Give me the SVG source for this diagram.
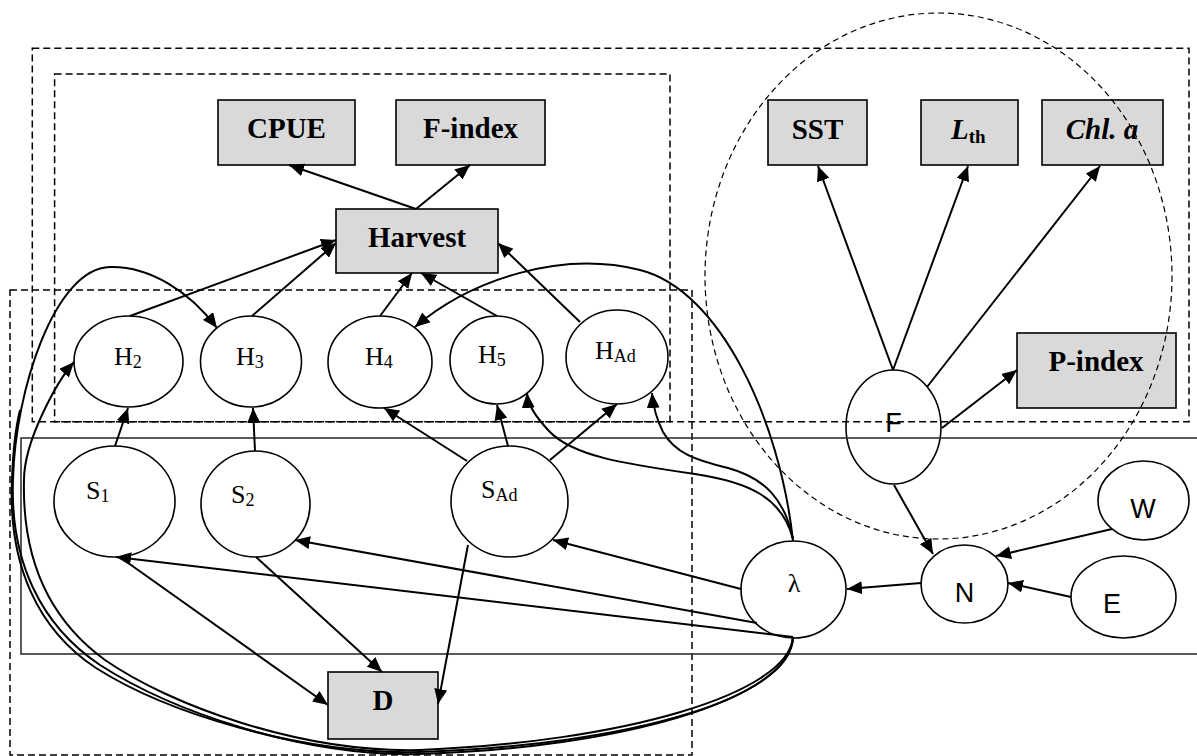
<svg xmlns="http://www.w3.org/2000/svg" width="1197" height="756" viewBox="0 0 1197 756">
<style>
.box{fill:#d9d9d9;stroke:#000;stroke-width:1.6}
.node{fill:#fff;stroke:#000;stroke-width:1.6}
.bl{font-family:"Liberation Serif","Times New Roman",serif;font-weight:bold;font-size:29px;fill:#000}
.sr{font-family:"Liberation Serif","Times New Roman",serif;font-size:26px;fill:#000}
.sub{font-size:18px}
.ss{font-family:"Liberation Sans",Arial,sans-serif;font-size:27px;fill:#000}
.edge{fill:none;stroke:#000;stroke-width:2;marker-end:url(#ah)}
.line{fill:none;stroke:#000;stroke-width:2}
.dash{fill:none;stroke:#000;stroke-width:1.5;stroke-dasharray:7 4}
.dashe{fill:none;stroke:#000;stroke-width:1.2;stroke-dasharray:6 4}
.solid{fill:none;stroke:#333;stroke-width:1.6}
</style>
<defs>
<marker id="ah" viewBox="0 0 15 13" refX="15" refY="6.5" markerWidth="15" markerHeight="13" markerUnits="userSpaceOnUse" orient="auto">
<path d="M0,0 L15,6.5 L0,13 z" fill="#000"/>
</marker>
</defs>
<rect width="1197" height="756" fill="#fff"/>

<g id="nodes">
<g id="CPUE"><rect class="box" x="218" y="100" width="137" height="65"/><text class="bl" x="286.5" y="138" text-anchor="middle">CPUE</text></g>
<g id="Findex"><rect class="box" x="396" y="100" width="149" height="65"/><text class="bl" x="470.5" y="138" text-anchor="middle">F-index</text></g>
<g id="Harvest"><rect class="box" x="336" y="209" width="162" height="64"/><text class="bl" x="417" y="247" text-anchor="middle">Harvest</text></g>
<g id="SST"><rect class="box" x="768" y="100" width="99" height="65"/><text class="bl" x="817.5" y="139" text-anchor="middle">SST</text></g>
<g id="Lth"><rect class="box" x="921" y="100" width="97" height="65"/><text class="bl" x="951" y="139"><tspan font-style="italic">L</tspan><tspan font-size="19" dy="4">th</tspan></text></g>
<g id="Chla"><rect class="box" x="1042" y="100" width="121" height="65"/><text class="bl" x="1102" y="139" text-anchor="middle" font-style="italic">Chl. a</text></g>
<g id="Pindex"><rect class="box" x="1017" y="333" width="159" height="75"/><text class="bl" x="1096" y="371" text-anchor="middle">P-index</text></g>
<g id="D"><rect class="box" x="328" y="672" width="110" height="67"/><text class="bl" x="383" y="710" text-anchor="middle">D</text></g>

<g id="H2"><ellipse class="node" cx="128.5" cy="361.5" rx="54.5" ry="45.5"/><text class="sr" x="114" y="365">H<tspan class="sub" dy="3">2</tspan></text></g>
<g id="H3"><ellipse class="node" cx="251" cy="361.5" rx="50.5" ry="45.5"/><text class="sr" x="236" y="365">H<tspan class="sub" dy="3">3</tspan></text></g>
<g id="H4"><ellipse class="node" cx="380" cy="362" rx="52" ry="46"/><text class="sr" x="365" y="365">H<tspan class="sub" dy="3">4</tspan></text></g>
<g id="H5"><ellipse class="node" cx="496.5" cy="360" rx="46.5" ry="44"/><text class="sr" x="478" y="363">H<tspan class="sub" dy="3">5</tspan></text></g>
<g id="HAd"><ellipse class="node" cx="617" cy="357" rx="51" ry="47"/><text class="sr" x="595" y="359">H<tspan class="sub" dy="3">Ad</tspan></text></g>
<g id="S1"><ellipse class="node" cx="114.5" cy="501.5" rx="60.5" ry="55.5"/><text class="sr" x="86" y="499">S<tspan class="sub" dy="3">1</tspan></text></g>
<g id="S2"><ellipse class="node" cx="255.5" cy="504" rx="54.5" ry="53"/><text class="sr" x="231" y="503">S<tspan class="sub" dy="3">2</tspan></text></g>
<g id="SAd"><ellipse class="node" cx="509.5" cy="501.5" rx="58.5" ry="55.5"/><text class="sr" x="481" y="498">S<tspan class="sub" dy="3">Ad</tspan></text></g>
<g id="F"><ellipse class="node" cx="893.5" cy="427" rx="47.5" ry="57"/><text class="ss" x="893.5" y="432" text-anchor="middle" font-size="26">F</text></g>
<g id="lambda"><ellipse class="node" cx="793.5" cy="589.5" rx="52.5" ry="48.5"/><text class="sr" x="794" y="592" text-anchor="middle" font-size="29">λ</text></g>
<g id="N"><ellipse class="node" cx="964.5" cy="584" rx="43.5" ry="39"/><text class="ss" x="964.5" y="602" text-anchor="middle" font-size="28">N</text></g>
<g id="W"><ellipse class="node" cx="1143.5" cy="500.5" rx="45.5" ry="39.5"/><text class="ss" x="1143" y="518" text-anchor="middle" font-size="28">W</text></g>
<g id="E"><ellipse class="node" cx="1123.5" cy="597" rx="52.5" ry="41"/><text class="ss" x="1112" y="613" text-anchor="middle" font-size="27">E</text></g>
</g>

<g id="clusters">
<rect class="dash" x="32.3" y="48.3" width="1156.7" height="373.4"/>
<rect class="dash" x="54.6" y="74" width="615.4" height="347.7"/>
<rect class="dash" x="10" y="290" width="682" height="465"/>
<rect class="solid" x="21" y="438" width="1190" height="216"/>
<ellipse class="dashe" cx="938.5" cy="276" rx="233.5" ry="263"/>
</g>

<g id="connectors">
<line class="edge" x1="416" y1="209" x2="289" y2="165"/>
<line class="edge" x1="416" y1="209" x2="470" y2="165"/>
<line class="edge" x1="130" y1="316" x2="336" y2="240"/>
<line class="edge" x1="252" y1="316" x2="336" y2="243"/>
<line class="edge" x1="380" y1="316" x2="412" y2="273"/>
<line class="edge" x1="497" y1="316" x2="421" y2="273"/>
<line class="edge" x1="580" y1="322" x2="498" y2="243"/>
<line class="edge" x1="115" y1="446" x2="128" y2="408"/>
<line class="edge" x1="255" y1="451" x2="253" y2="408"/>
<line class="edge" x1="467" y1="461" x2="384" y2="408"/>
<line class="edge" x1="508" y1="446" x2="497" y2="405"/>
<line class="edge" x1="550" y1="460" x2="617" y2="404"/>
<line class="edge" x1="468" y1="545" x2="438" y2="704"/>
<line class="edge" x1="256" y1="557" x2="382" y2="672"/>
<line class="edge" x1="124" y1="560" x2="328" y2="705"/>
<line class="edge" x1="793" y1="637" x2="116" y2="557"/>
<line class="edge" x1="757" y1="623" x2="295" y2="540"/>
<line class="edge" x1="741" y1="589" x2="553" y2="540"/>
<line class="edge" x1="921" y1="583" x2="847" y2="589"/>
<line class="edge" x1="1112" y1="529" x2="996" y2="556"/>
<line class="edge" x1="1071" y1="597" x2="1008" y2="583"/>
<line class="edge" x1="894" y1="485" x2="933" y2="554"/>
<line class="edge" x1="893" y1="370" x2="818" y2="166"/>
<line class="edge" x1="893" y1="370" x2="968" y2="166"/>
<line class="edge" x1="927" y1="387" x2="1100" y2="166"/>
<line class="edge" x1="942" y1="428" x2="1017" y2="370"/>
<path class="edge" d="M793,541 C780,420 720,290 640,270 C560,250 470,280 415,327"/>
<path class="edge" d="M793,539 C782,497 748,482 695,474 C625,464 572,456 549,431 C535,416 528,405 527,393"/>
<path class="edge" d="M793,539 C785,500 765,478 728,468 C695,460 675,453 663,432 C656,418 653,405 652,393"/>
<path class="edge" d="M793,637 C790,700 620,748 420,754 C300,757 170,710 100,665 C40,625 10,560 13,480 C15,390 55,268 110,267 C150,266 190,292 217,328"/>
<path class="line" d="M793,637 C792,698 630,745 420,752 C300,755 165,712 96,668 C38,630 8,565 12,480 C13,450 15,430 20,410"/>
<path class="edge" d="M793,637 C788,695 620,742 420,750 C300,753 170,705 105,660 C50,620 22,560 24,480 C24,440 58,380 74,362"/>
</g>
</svg>
